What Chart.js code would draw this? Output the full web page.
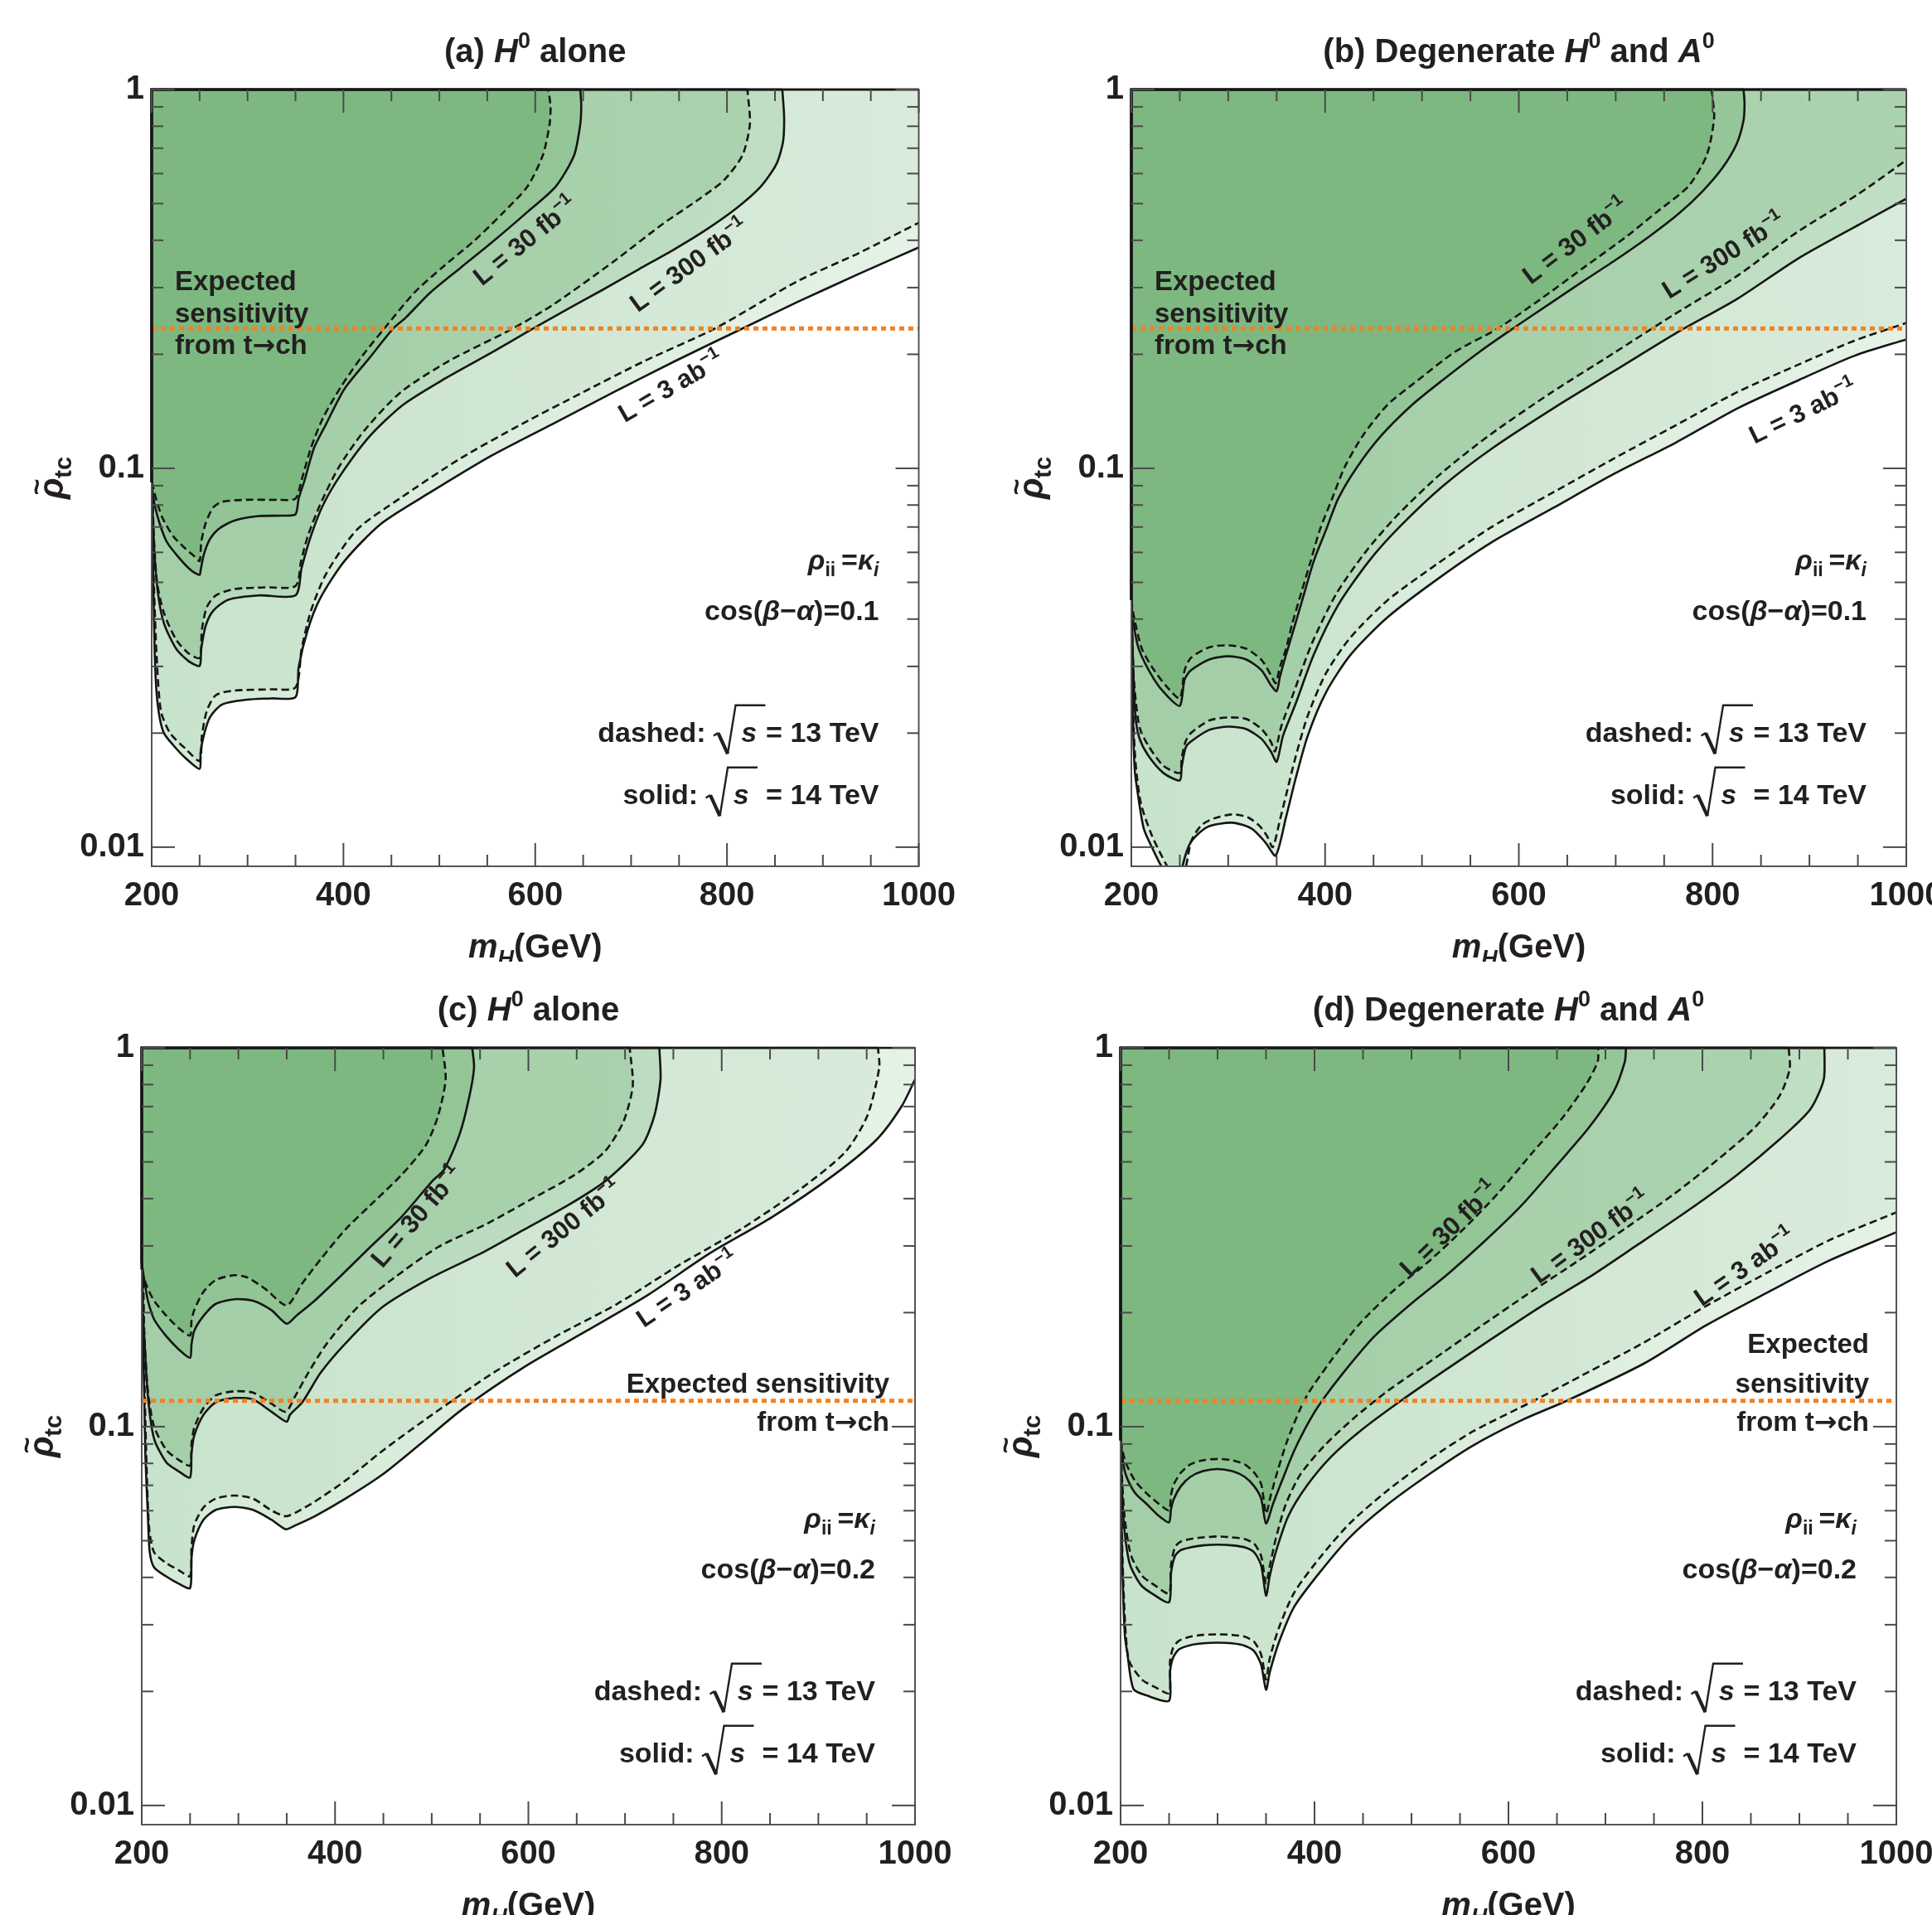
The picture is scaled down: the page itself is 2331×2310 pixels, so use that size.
<!DOCTYPE html>
<html>
<head>
<meta charset="utf-8">
<script src="https://cdn.jsdelivr.net/npm/chart.js@4.4.1/dist/chart.umd.min.js"></script>
<style>
html, body { margin: 0; padding: 0; background: #fff; overflow: hidden; }
#page { position: relative; width: 2331px; height: 2310px; overflow: hidden; background: #fff; }
.panel { position: absolute; }
</style>
</head>
<body>
<div id="page">
  <div class="panel" style="left:0px;top:0px"><canvas id="chartA" width="1165" height="1160"></canvas></div>
  <div class="panel" style="left:1170px;top:0px"><canvas id="chartB" width="1220" height="1160"></canvas></div>
  <div class="panel" style="left:0px;top:1160px"><canvas id="chartC" width="1165" height="1150"></canvas></div>
  <div class="panel" style="left:1170px;top:1160px"><canvas id="chartD" width="1220" height="1150"></canvas></div>
</div>
<script>
// axes
const xRange = [200, 1000];
const yRange = [0.0089, 1];
const xTickValues = [200, 250, 300, 350, 400, 450, 500, 550, 600, 650, 700, 750, 800, 850, 900, 950, 1000];
const xLabelled = [200, 400, 600, 800, 1000];
const yTickValues = [0.01, 0.02, 0.03, 0.04, 0.05, 0.06, 0.07, 0.08, 0.09, 0.1, 0.2, 0.3, 0.4, 0.5, 0.6, 0.7, 0.8, 0.9, 1];
const yLabelled = [0.01, 0.1, 1];

// t -> ch sensitivity and model parameters per panel (a, b, c, d)
const sensitivityLevel = [0.234, 0.234, 0.117, 0.117];
const cosBetaAlpha = ['0.1', '0.1', '0.2', '0.2'];
const lumiValues = ['30', '300', '3'];
const lumiUnits = ['fb', 'fb', 'ab'];

// contours: [m_H, rho_tc], 14 TeV solid / 13 TeV dashed
// (a) H0 alone, cos=0.1
const a30_14 = [[200,0.092],[200.6,0.088],[203.2,0.080],[208.3,0.0715],[216,0.0638],[228.7,0.058],[241.5,0.0537],[250,0.0523],[251,0.0537],[254.3,0.0591],[260.7,0.065],[270.2,0.0693],[286.2,0.0728],[311.7,0.0748],[337.3,0.075],[350,0.0756],[353.3,0.0832],[359.6,0.0932],[369.2,0.113],[382,0.131],[401,0.162],[426.7,0.195],[452,0.234],[465,0.25],[490.5,0.291],[522.5,0.339],[554.4,0.394],[592.7,0.477],[621.5,0.555],[640.6,0.671],[647,0.811],[648,0.91],[647,1]];
const a30_13 = [[200,0.092],[201.3,0.0897],[204.5,0.0832],[210.9,0.0743],[222.4,0.0662],[235.1,0.0614],[244.7,0.0585],[250,0.0569],[251.7,0.0638],[256.2,0.0715],[263.9,0.0786],[273.4,0.0816],[299,0.0826],[331,0.0826],[350,0.0832],[356.4,0.0932],[366,0.113],[378.8,0.136],[398,0.165],[420.3,0.199],[442.7,0.234],[474,0.291],[503,0.339],[537,0.40],[568,0.477],[592,0.555],[608,0.671],[615,0.81],[616,0.9],[613.8,1]];
const a300_14 = [[200,0.092],[200.6,0.0832],[202.6,0.0614],[206.4,0.0471],[212.8,0.039],[225.5,0.0334],[238.3,0.031],[250,0.0301],[251.7,0.0334],[256.2,0.0383],[263.9,0.042],[279.8,0.045],[311.7,0.0462],[350,0.0462],[356.4,0.0546],[366,0.0662],[378.8,0.0801],[398,0.0968],[428,0.122],[462,0.147],[503.3,0.171],[554.4,0.202],[592.7,0.23],[631,0.261],[669.3,0.295],[707.7,0.335],[746,0.38],[777.9,0.426],[809.8,0.486],[835.4,0.555],[851.3,0.634],[858.3,0.724],[859.6,0.843],[857.7,1]];
const a300_13 = [[200,0.092],[200.6,0.0864],[202.6,0.0638],[205.7,0.0498],[212.8,0.0415],[225.5,0.0353],[238.3,0.0325],[250,0.0316],[252.4,0.0375],[257.5,0.043],[267,0.0462],[286.2,0.048],[318,0.0485],[350,0.0489],[355.8,0.0569],[362.8,0.0662],[375.6,0.0801],[395,0.1005],[422,0.126],[460,0.159],[510,0.192],[576.8,0.234],[618.3,0.27],[682.1,0.352],[733.2,0.442],[771.5,0.515],[797.1,0.577],[816.2,0.671],[823.9,0.811],[821.3,1]];
const a3ab_14 = [[200,0.092],[200.1,0.0832],[200.6,0.069],[201.9,0.0471],[203.2,0.0322],[205.1,0.0256],[208.3,0.022],[212.8,0.020],[222.4,0.0186],[235.1,0.0172],[250,0.0161],[251,0.0178],[254.3,0.0197],[260.7,0.022],[273.4,0.0238],[299,0.0245],[324.5,0.0247],[350,0.0249],[353.3,0.0299],[362.8,0.0375],[375.6,0.0453],[401,0.0569],[439.5,0.0715],[490.5,0.0864],[554.4,0.108],[618.3,0.131],[682.1,0.159],[746,0.192],[816.2,0.234],[873.7,0.275],[937.5,0.326],[1000,0.383]];
const a3ab_13 = [[200,0.092],[200.1,0.0864],[200.6,0.069],[202.6,0.0471],[205.1,0.0322],[209.6,0.0229],[219.2,0.020],[235.1,0.0182],[250,0.0169],[252.4,0.0197],[257.5,0.0229],[267,0.0252],[286.2,0.0259],[324.5,0.0261],[350,0.0264],[356.4,0.0334],[366,0.042],[382,0.0527],[413.9,0.0688],[458.6,0.0832],[522.5,0.1064],[586.3,0.131],[650.2,0.159],[714,0.192],[787.5,0.234],[873.7,0.312],[937.5,0.37],[1000,0.445]];

// (b) degenerate H0 and A0, cos=0.1
const b30_14 = [[200,0.045],[201.3,0.0404],[207.6,0.0334],[223.5,0.0277],[236.1,0.0252],[250,0.0236],[255,0.0277],[261.5,0.0293],[280.5,0.0313],[300.2,0.0319],[318.5,0.0313],[334.4,0.0293],[343.9,0.0268],[350,0.0258],[353.4,0.0282],[359.7,0.0322],[369.3,0.0389],[378.8,0.0471],[388.3,0.0569],[401,0.0688],[413.6,0.0832],[432.7,0.1005],[458,0.122],[489.7,0.147],[521.4,0.171],[559.4,0.203],[594,0.234],[630,0.27],[665,0.31],[700,0.355],[735,0.41],[765,0.47],[790,0.54],[810,0.62],[825,0.72],[832,0.83],[833,0.92],[832,1]];
const b30_13 = [[200,0.045],[201.9,0.0415],[210.8,0.0334],[223.5,0.0293],[236.1,0.0266],[250,0.0247],[255,0.0293],[261.5,0.0316],[280.5,0.0337],[300.2,0.0341],[318.5,0.0334],[334.4,0.0312],[343.9,0.0285],[349,0.0271],[353.4,0.0299],[359.7,0.0334],[366.1,0.0389],[375.6,0.0471],[385.1,0.0569],[394.6,0.0688],[407.3,0.0832],[420,0.1005],[439,0.122],[464.3,0.147],[496,0.171],[534.1,0.203],[578.4,0.234],[622.8,0.28],[667.2,0.339],[711.6,0.41],[743.3,0.477],[775,0.555],[794,0.671],[801.6,0.843],[799,1]];
const b300_14 = [[200,0.045],[201,0.036],[202.2,0.028],[204.4,0.022],[208,0.0195],[217.1,0.0175],[233,0.0157],[250,0.015],[252,0.0163],[256,0.0183],[261.5,0.019],[280.5,0.0204],[300.2,0.0208],[318.5,0.0205],[334.4,0.0193],[343.9,0.0179],[350,0.0168],[356.6,0.0197],[369.3,0.0238],[388.3,0.0322],[413.6,0.0436],[445.3,0.0569],[477,0.0701],[521.4,0.0897],[572,0.1127],[635.5,0.144],[698.9,0.181],[762.3,0.2275],[825.7,0.2804],[889,0.359],[952.5,0.442],[1000,0.515]];
const b300_13 = [[200,0.045],[201,0.036],[202.5,0.028],[205.7,0.0229],[209,0.0205],[217.1,0.0186],[233,0.0164],[250,0.0157],[252,0.0172],[256,0.019],[261.5,0.02],[280.5,0.0216],[300.2,0.022],[318.5,0.0218],[334.4,0.0205],[343.9,0.019],[348.3,0.0179],[354.7,0.0208],[367.4,0.0255],[386.4,0.0345],[411.7,0.0467],[443.4,0.0609],[475.1,0.0754],[519.5,0.0968],[570.2,0.1226],[633.6,0.1585],[697,0.2007],[760.4,0.2549],[823.8,0.32],[887.2,0.42],[950.6,0.53],[1000,0.651]];
const b3ab_14 = [[200,0.045],[200.8,0.03],[202,0.02],[203.5,0.016],[205.7,0.0144],[212.8,0.0112],[222.8,0.0098],[231,0.0089],[240,0.0082],[250,0.0078],[252.8,0.0089],[261.3,0.0103],[278.4,0.0113],[304,0.0116],[324,0.0112],[338.3,0.0103],[349,0.0095],[359.7,0.012],[369.3,0.01507],[382,0.01965],[401,0.02564],[426.3,0.0322],[464.3,0.0404],[515.1,0.0508],[572,0.0638],[635.5,0.0786],[698.9,0.0969],[762.3,0.117],[825.7,0.144],[889,0.171],[946,0.198],[1000,0.219]];
const b3ab_13 = [[200,0.045],[201,0.03],[202.6,0.02],[205,0.016],[210,0.013],[221.4,0.0107],[237,0.0089],[245,0.0083],[250,0.008],[253,0.0083],[256.5,0.0089],[262,0.0104],[272,0.0114],[285,0.0119],[304,0.0122],[320,0.012],[332,0.0114],[340,0.0107],[346,0.01],[353.4,0.0118],[359.7,0.0137],[369.3,0.0172],[382,0.0222],[401,0.0288],[426.3,0.0358],[464.3,0.0448],[515.1,0.0558],[572,0.07],[635.5,0.0864],[698.9,0.1064],[762.3,0.13],[825.7,0.159],[889,0.188],[946,0.217],[1000,0.242]];

// (c) H0 alone, cos=0.2
const c30_14 = [[200,0.27],[201.3,0.257],[203.2,0.239],[206.4,0.215],[212.8,0.192],[225.6,0.173],[238.3,0.16],[250,0.152],[251.5,0.165],[254.3,0.179],[263.9,0.196],[276.7,0.211],[295.8,0.217],[315,0.215],[334.2,0.203],[350,0.187],[359.7,0.196],[378.9,0.215],[404.5,0.248],[436.4,0.298],[468.4,0.357],[500.3,0.444],[513.1,0.478],[529.1,0.594],[538.7,0.739],[543.8,0.887],[541.9,1]];
const c30_13 = [[200,0.26],[201.9,0.248],[206.4,0.231],[212.8,0.215],[225.6,0.196],[238.3,0.182],[250,0.174],[251.5,0.19],[254.3,0.203],[263.9,0.227],[276.7,0.244],[295.8,0.251],[308.6,0.248],[327.8,0.231],[350,0.209],[366.1,0.239],[385.3,0.277],[410.9,0.332],[436.4,0.384],[468.4,0.461],[493.9,0.553],[506.7,0.663],[514.4,0.825],[511.2,1]];
const c300_14 = [[200,0.27],[200.6,0.24],[201.3,0.2],[202.6,0.173],[206.4,0.12],[212.8,0.0929],[225.6,0.0804],[238.3,0.0762],[250,0.0734],[251.5,0.085],[254.3,0.0947],[263.9,0.1075],[276.7,0.116],[295.8,0.119],[315,0.118],[334.2,0.1095],[350,0.103],[353.4,0.1075],[366.1,0.116],[385.3,0.139],[410.9,0.166],[449.2,0.207],[500.3,0.248],[551.4,0.287],[596.2,0.332],[640.9,0.384],[679.2,0.444],[717.6,0.553],[730.4,0.663],[736.7,0.825],[735.5,1]];
const c300_13 = [[200,0.26],[201.3,0.248],[202.6,0.179],[206.4,0.124],[212.8,0.1],[225.6,0.0867],[238.3,0.0817],[250,0.0789],[251.5,0.09],[254.3,0.0993],[263.9,0.112],[276.7,0.121],[295.8,0.124],[315,0.123],[334.2,0.115],[349,0.1095],[358.5,0.12],[372.5,0.139],[391.7,0.166],[423.6,0.207],[462,0.248],[506.7,0.298],[557.8,0.344],[602.6,0.398],[647.3,0.461],[679.2,0.533],[698.4,0.639],[708,0.795],[704.8,1]];
const c3ab_14 = [[200,0.27],[200.6,0.248],[201.3,0.173],[202.6,0.12],[203.8,0.0835],[206.4,0.058],[208.3,0.0466],[212.8,0.0425],[225.6,0.0402],[238.3,0.0385],[250,0.0375],[251.5,0.045],[254.3,0.0501],[263.9,0.0568],[276.7,0.0603],[295.8,0.0614],[315,0.0603],[334.2,0.0568],[349,0.0536],[359.7,0.055],[378.9,0.058],[410.9,0.0646],[449.2,0.0748],[487.5,0.0897],[532.3,0.1115],[596.2,0.144],[660.1,0.179],[724,0.223],[787.9,0.287],[851.8,0.357],[915.7,0.461],[960.4,0.573],[986,0.70],[1000,0.825]];
const c3ab_13 = [[200,0.26],[201.3,0.248],[201.9,0.173],[203.2,0.12],[205.1,0.0775],[207.7,0.0539],[212.8,0.0466],[225.6,0.0436],[238.3,0.0418],[250,0.0403],[251.5,0.048],[254.3,0.0549],[263.9,0.0612],[276.7,0.0646],[295.8,0.0658],[315,0.0646],[334.2,0.0601],[349,0.058],[359.7,0.0594],[378.9,0.0634],[410.9,0.0721],[449.2,0.0864],[500.3,0.1075],[564.2,0.139],[628.1,0.173],[692,0.211],[755.9,0.267],[819.8,0.332],[883.7,0.428],[928.4,0.533],[950.8,0.663],[963,0.887],[961.7,1]];

// (d) degenerate H0 and A0, cos=0.2
const d30_14 = [[200,0.092],[200.6,0.0898],[201.9,0.0834],[205.1,0.075],[214.6,0.067],[227.2,0.0624],[239.9,0.058],[250,0.0559],[252,0.0605],[255,0.0645],[262,0.0695],[272,0.0737],[285,0.0763],[300,0.0773],[315,0.0763],[328,0.0737],[338,0.0695],[345,0.0645],[350,0.0555],[357.1,0.0624],[366.6,0.0721],[379.2,0.0866],[395.1,0.104],[407.7,0.117],[429.9,0.139],[461.6,0.173],[499.6,0.211],[537.6,0.253],[575.6,0.309],[613.6,0.384],[651.6,0.496],[683.2,0.617],[708.5,0.767],[720,0.92],[721.2,1]];
const d30_13 = [[200,0.092],[201.3,0.0882],[205.1,0.0806],[214.6,0.0721],[227.2,0.0665],[239.9,0.0624],[250,0.0601],[252,0.066],[255,0.0705],[262,0.0755],[272,0.0795],[285,0.0815],[300,0.0822],[315,0.0815],[328,0.0795],[338,0.0755],[345,0.0705],[350,0.059],[355,0.066],[362,0.0765],[372,0.092],[385,0.111],[394,0.123],[415,0.147],[445,0.185],[480,0.227],[520,0.276],[555,0.335],[590,0.415],[625,0.53],[655,0.65],[680,0.8],[692,0.92],[692.7,1]];
const d300_14 = [[200,0.092],[201.3,0.0697],[203.8,0.0539],[209.5,0.0434],[220.9,0.0382],[233.6,0.0361],[250,0.0344],[252,0.041],[256,0.0455],[262,0.0472],[272,0.048],[285,0.0486],[300,0.0488],[315,0.0486],[328,0.048],[338,0.0465],[345,0.043],[350,0.0358],[353.9,0.0404],[360.2,0.0468],[372.9,0.058],[391.9,0.0697],[417.2,0.0833],[448.9,0.0982],[486.9,0.116],[531.2,0.139],[581.9,0.17],[632.6,0.207],[683.2,0.248],[733.9,0.303],[784.5,0.371],[835.2,0.461],[879.5,0.573],[911.2,0.688],[925.1,0.825],[925.8,1]];
const d300_13 = [[200,0.092],[201.3,0.0747],[204.4,0.0569],[210.8,0.0457],[222.2,0.0404],[234.8,0.0382],[250,0.0363],[252,0.043],[256,0.048],[262,0.0497],[272,0.0505],[285,0.051],[300,0.0513],[315,0.051],[328,0.0505],[338,0.049],[345,0.0455],[350,0.0386],[354,0.043],[360,0.0505],[370,0.062],[385,0.0745],[410,0.089],[440,0.105],[475,0.124],[520,0.149],[570,0.183],[620,0.224],[670,0.272],[720,0.333],[770,0.41],[815,0.505],[855,0.62],[880,0.75],[890,0.88],[889,1]];
const d3ab_14 = [[200,0.092],[200.3,0.075],[200.8,0.06],[201.6,0.045],[202.8,0.035],[204.5,0.028],[207,0.0252],[213.3,0.0203],[227.2,0.0195],[250,0.0189],[251,0.0225],[254,0.0245],[260,0.0258],[272,0.0265],[285,0.0268],[300,0.0269],[315,0.0268],[328,0.0264],[338,0.0255],[345,0.0235],[350,0.0202],[353.9,0.0225],[363.4,0.027],[379.2,0.0335],[404.6,0.041],[436.2,0.051],[474.2,0.062],[518.6,0.075],[562.9,0.089],[613.6,0.104],[660,0.117],[740.2,0.147],[803.5,0.185],[866.9,0.226],[930.2,0.274],[1000,0.326]];
const d3ab_13 = [[200,0.092],[200.6,0.075],[201,0.06],[202,0.045],[203.5,0.035],[205.5,0.028],[209,0.024],[222,0.0215],[236,0.0205],[250,0.0198],[251,0.024],[254,0.026],[260,0.0272],[272,0.0279],[285,0.0282],[300,0.0283],[315,0.0282],[328,0.0279],[338,0.027],[345,0.025],[350,0.0215],[353.9,0.0245],[363.4,0.0295],[379.2,0.0365],[404.6,0.0448],[436.2,0.0555],[474.2,0.0675],[518.6,0.082],[562.9,0.097],[626,0.117],[676.9,0.137],[740.2,0.167],[803.5,0.208],[866.9,0.255],[930.2,0.31],[1000,0.368]];

const FONT = '"Liberation Sans", Arial, Helvetica, sans-serif';
const INK = '#231f20';
// region shades, same order as the curve lists: [r, g, b, lightening towards the right]
const regionShades = [[145,196,149,0.05],[125,184,129,0],[182,217,185,0.15],[163,206,167,0.1],[212,234,214,0.4],[200,227,203,0.3]];
const paintOrder = [4, 5, 2, 3, 0, 1];

function drawRich(ctx, segs, x, y, size, align) {
  const items = segs.map(s => {
    const sz = (s.sup || s.sub) ? Math.round(size * 0.68) : size;
    const f = (s.i ? 'italic ' : '') + 'bold ' + sz + 'px ' + (s.fam || FONT);
    ctx.font = f;
    const tw = ctx.measureText(s.t).width;
    const w = s.root ? tw + size * 1.3 : tw;
    const dy = s.sup ? -size * 0.42 : s.sub ? size * 0.24 : 0;
    return {s, f, tw, w, dy};
  });
  const total = items.reduce((acc, it) => acc + it.w, 0);
  let cx = align === 'right' ? x - total : align === 'center' ? x - total / 2 : x;
  ctx.textAlign = 'left';
  ctx.textBaseline = 'alphabetic';
  ctx.fillStyle = INK;
  ctx.strokeStyle = INK;
  items.forEach(it => {
    ctx.font = it.f;
    if (it.s.root) {
      const k = size;
      ctx.lineWidth = 2.4;
      ctx.beginPath();
      ctx.moveTo(cx, y - 0.22 * k);
      ctx.lineTo(cx + 0.16 * k, y - 0.32 * k);
      ctx.stroke();
      ctx.lineWidth = 4.2;
      ctx.beginPath();
      ctx.moveTo(cx + 0.16 * k, y - 0.32 * k);
      ctx.lineTo(cx + 0.5 * k, y + 0.42 * k);
      ctx.stroke();
      ctx.lineWidth = 2.4;
      ctx.beginPath();
      ctx.moveTo(cx + 0.5 * k, y + 0.42 * k);
      ctx.lineTo(cx + 0.78 * k, y - 1.3 * k);
      ctx.lineTo(cx + 1.28 * k + it.tw, y - 1.3 * k);
      ctx.stroke();
      ctx.fillText(it.s.t, cx + 0.98 * k, y);
    } else {
      ctx.fillText(it.s.t, cx, y + it.dy);
    }
    if (it.s.tilde) {
      ctx.font = 'bold ' + Math.round(size * 0.8) + 'px ' + FONT;
      ctx.textAlign = 'center';
      ctx.fillText('~', cx + it.tw * 0.58, y - size * 0.5);
      ctx.textAlign = 'left';
    }
    cx += it.w;
  });
}

function tracePath(ctx, pts) {
  pts.forEach((p, k) => {
    if (!k) { ctx.moveTo(p.x, p.y); return; }
    const q = pts[k - 1];
    if (q.cp2x !== undefined && p.cp1x !== undefined) ctx.bezierCurveTo(q.cp2x, q.cp2y, p.cp1x, p.cp1y, p.x, p.y);
    else ctx.lineTo(p.x, p.y);
  });
}

const panelCfg = {};

const decor = {
  id: 'decor',
  beforeDatasetsDraw(chart) {
    const {ctx, chartArea: a} = chart;
    ctx.save();
    ctx.beginPath();
    ctx.rect(a.left, a.top, a.right - a.left, a.bottom - a.top);
    ctx.clip();
    paintOrder.forEach(i => {
      const pts = chart.getDatasetMeta(i).data;
      const first = pts[0], last = pts[pts.length - 1];
      const sh = regionShades[i];
      const light = sh.slice(0, 3).map(c => Math.round(c + (255 - c) * sh[3]));
      const g = ctx.createLinearGradient(a.left, 0, a.right, 0);
      g.addColorStop(0, 'rgb(' + sh.slice(0, 3).join(',') + ')');
      g.addColorStop(1, 'rgb(' + light.join(',') + ')');
      ctx.beginPath();
      tracePath(ctx, pts);
      ctx.lineTo(last.x, a.top);
      ctx.lineTo(a.left, a.top);
      ctx.lineTo(a.left, first.y);
      ctx.closePath();
      ctx.fillStyle = g;
      ctx.fill();
    });
    ctx.restore();
  },
  afterDatasetsDraw(chart) {
    const {ctx, chartArea: a} = chart;
    const cfg = panelCfg[chart.canvas.id];
    const xs = chart.scales.x, ys = chart.scales.y;
    ctx.save();

    // frame
    ctx.strokeStyle = '#555';
    ctx.lineWidth = 2;
    ctx.strokeRect(a.left, a.top, a.right - a.left, a.bottom - a.top);

    // contour boundaries running along the top and left edges
    ctx.strokeStyle = '#151515';
    ctx.lineWidth = 2.6;
    chart.data.datasets.forEach((ds, i) => {
      if (!ds.region) return;
      const pts = chart.getDatasetMeta(i).data;
      ctx.beginPath();
      ctx.moveTo(pts[pts.length - 1].x, a.top);
      ctx.lineTo(a.left, a.top);
      ctx.lineTo(a.left, Math.min(pts[0].y, a.bottom));
      ctx.stroke();
    });

    // inward ticks on all four sides
    ctx.strokeStyle = '#4a4a4a';
    ctx.lineWidth = 2;
    const seg = (x1, y1, x2, y2) => { ctx.beginPath(); ctx.moveTo(x1, y1); ctx.lineTo(x2, y2); ctx.stroke(); };
    xs.ticks.forEach(t => {
      const px = xs.getPixelForValue(t.value);
      const len = xLabelled.includes(t.value) ? 28 : 14;
      seg(px, a.bottom, px, a.bottom - len);
      seg(px, a.top, px, a.top + len);
    });
    ys.ticks.forEach(t => {
      const py = ys.getPixelForValue(t.value);
      const len = yLabelled.includes(t.value) ? 28 : 14;
      seg(a.left, py, a.left + len, py);
      seg(a.right, py, a.right - len, py);
    });

    // title and axis titles
    const cxm = (a.left + a.right) / 2;
    drawRich(ctx, cfg.title, cxm, a.top - 33, 40, 'center');
    drawRich(ctx, [{t: 'm', i: true}, {t: 'H', i: true, sub: true}, {t: '(GeV)'}], cxm, a.bottom + 110, 40, 'center');
    ctx.save();
    ctx.translate(a.left - 121, (a.top + a.bottom) / 2);
    ctx.rotate(-Math.PI / 2);
    drawRich(ctx, [{t: 'ρ', i: true, tilde: true}, {t: 'tc', sub: true}], 0, 14, 42, 'center');
    ctx.restore();

    // contour labels
    cfg.labels.forEach((lab, k) => {
      const px = xs.getPixelForValue(lab[0]), py = ys.getPixelForValue(lab[1]);
      ctx.save();
      ctx.translate(px, py);
      ctx.rotate(lab[2] * Math.PI / 180);
      drawRich(ctx, [{t: 'L = ' + lumiValues[k] + ' ' + lumiUnits[k]}, {t: '−1', sup: true}], 0, 11, 31, 'center');
      ctx.restore();
    });

    // sensitivity note
    cfg.sensText.lines.forEach((ln, k) => {
      const x = cfg.sensText.align === 'left' ? a.left + cfg.sensText.dx : a.right - cfg.sensText.dx;
      const parts = ln.split('→');
      const segs = parts.length > 1
        ? [{t: parts[0]}, {t: '→', fam: '"DejaVu Sans", sans-serif'}, {t: parts[1]}]
        : [{t: ln}];
      drawRich(ctx, segs, x, a.top + cfg.sensText.base[k], 33, cfg.sensText.align);
    });

    // parameters
    const rx = a.right - 48;
    drawRich(ctx, [{t: 'ρ', i: true}, {t: 'ii', sub: true}, {t: '\u2009='}, {t: 'κ', i: true}, {t: 'i', i: true, sub: true}], rx, a.top + 579, 34, 'right');
    drawRich(ctx, [{t: 'cos('}, {t: 'β', i: true}, {t: '−'}, {t: 'α', i: true}, {t: ')=' + cfg.cos}], rx, a.top + 640, 34, 'right');
    drawRich(ctx, [{t: 'dashed: '}, {t: 's', i: true, root: true}, {t: '= 13 TeV'}], rx, a.top + 787, 34, 'right');
    drawRich(ctx, [{t: 'solid: '}, {t: 's', i: true, root: true}, {t: ' = 14 TeV'}], rx, a.top + 862, 34, 'right');

    ctx.restore();
  }
};

function buildChart(id, box, curves, sens) {
  const datasets = curves.map((c, k) => ({
    data: c.map(q => ({x: q[0], y: q[1]})),
    borderColor: '#151515',
    borderWidth: 2.6,
    borderDash: k % 2 ? [9, 5] : [],
    pointRadius: 0,
    tension: 0.25,
    fill: false,
    region: true,
    order: 2
  }));
  datasets.push({
    data: [{x: xRange[0], y: sens}, {x: xRange[1], y: sens}],
    borderColor: '#f28121',
    borderWidth: 5,
    borderDash: [6, 5],
    pointRadius: 0,
    tension: 0,
    fill: false,
    order: 1
  });
  const tickFont = {family: FONT, size: 40, weight: 'bold'};
  return new Chart(document.getElementById(id), {
    type: 'line',
    data: {datasets},
    options: {
      responsive: false,
      animation: false,
      events: [],
      layout: {padding: {left: 0, top: box.top, right: box.right, bottom: 0}},
      plugins: {legend: {display: false}, tooltip: {enabled: false}, title: {display: false}},
      scales: {
        x: {
          type: 'linear', min: xRange[0], max: xRange[1],
          afterBuildTicks: s => { s.ticks = xTickValues.map(v => ({value: v})); },
          afterFit: s => { s.height = box.xh; },
          grid: {display: false, drawTicks: false},
          border: {display: false},
          ticks: {autoSkip: false, maxRotation: 0, minRotation: 0, padding: 12, color: INK, font: tickFont,
                  callback: v => xLabelled.includes(v) ? String(v) : ''}
        },
        y: {
          type: 'logarithmic', min: yRange[0], max: yRange[1],
          afterBuildTicks: s => { s.ticks = yTickValues.map(v => ({value: v})); },
          afterFit: s => { s.width = box.yw; },
          grid: {display: false, drawTicks: false},
          border: {display: false},
          ticks: {autoSkip: false, padding: 9, color: INK, font: tickFont,
                  callback: v => yLabelled.includes(v) ? String(v) : ''}
        }
      }
    },
    plugins: [decor]
  });
}

const titleH = tag => [{t: '(' + tag + ') '}, {t: 'H', i: true}, {t: '0', sup: true}, {t: ' alone'}];
const titleHA = tag => [{t: '(' + tag + ') Degenerate '}, {t: 'H', i: true}, {t: '0', sup: true}, {t: ' and '}, {t: 'A', i: true}, {t: '0', sup: true}];
const sensLeft = {align: 'left', dx: 28, base: [242, 281, 319], lines: ['Expected', 'sensitivity', 'from t→ch']};

panelCfg.chartA = {title: titleH('a'), cos: cosBetaAlpha[0], sensText: sensLeft,
  labels: [[589, 0.40, -39], [760, 0.345, -36], [741, 0.165, -30]]};
panelCfg.chartB = {title: titleHA('b'), cos: cosBetaAlpha[1], sensText: sensLeft,
  labels: [[658, 0.40, -37], [811, 0.366, -32], [893, 0.142, -26]]};
panelCfg.chartC = {title: titleH('c'), cos: cosBetaAlpha[2],
  sensText: {align: 'right', dx: 31, base: [416, 462], lines: ['Expected sensitivity', 'from t→ch']},
  labels: [[484, 0.36, -49], [636, 0.335, -39], [764, 0.232, -34]]};
panelCfg.chartD = {title: titleHA('d'), cos: cosBetaAlpha[3],
  sensText: {align: 'right', dx: 33, base: [368, 416, 462], lines: ['Expected', 'sensitivity', 'from t→ch']},
  labels: [[538, 0.334, -44], [684, 0.318, -36], [843, 0.265, -35]]};

buildChart('chartA', {top: 108, right: 46, yw: 183, xh: 115}, [a30_14, a30_13, a300_14, a300_13, a3ab_14, a3ab_13], sensitivityLevel[0]);
buildChart('chartB', {top: 108, right: 90, yw: 195, xh: 115}, [b30_14, b30_13, b300_14, b300_13, b3ab_14, b3ab_13], sensitivityLevel[1]);
buildChart('chartC', {top: 104, right: 61, yw: 171, xh: 109}, [c30_14, c30_13, c300_14, c300_13, c3ab_14, c3ab_13], sensitivityLevel[2]);
buildChart('chartD', {top: 104, right: 102, yw: 182, xh: 109}, [d30_14, d30_13, d300_14, d300_13, d3ab_14, d3ab_13], sensitivityLevel[3]);
</script>
</body>
</html>
